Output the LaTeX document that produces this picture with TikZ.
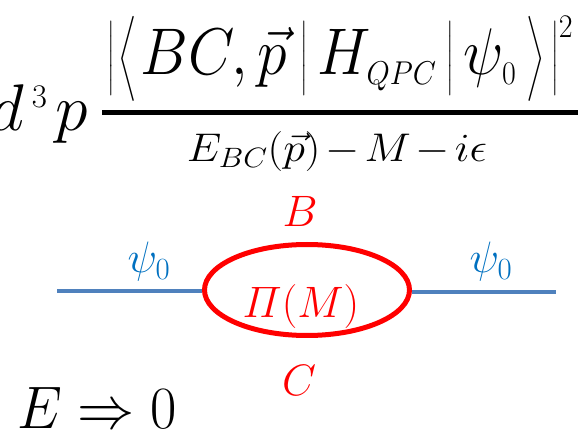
\RequirePackage{fix-cm}
\documentclass[tikz,border=0pt]{standalone}
\usepackage{amsmath}
\usepackage{graphicx}
\usetikzlibrary{shapes.geometric}
\definecolor{eqblue}{RGB}{0,112,192}
\definecolor{lineblue}{RGB}{79,129,189}
\definecolor{loopred}{RGB}{255,0,0}
\makeatletter
\newcommand\dlm[2]{\mathord{\hbox{$\left#2\vcenter to #1{}\right.\n@space$}}}
\newcommand\angd[1]{\mathord{\vcenter{\hbox{\scalebox{1}[1.14]{$\left#1\vcenter to 82pt{}\right.\n@space$}}}}}
\makeatother
\begin{document}
\begin{tikzpicture}[x=1pt,y=-1pt,
  txt/.style={inner sep=0pt, outer sep=0pt},
  bigtxt/.style={txt, font=\fontsize{66}{70}\selectfont},
  dentxt/.style={txt, font=\fontsize{40}{44}\selectfont},
  midtxt/.style={txt, font=\fontsize{44}{48}\selectfont},
  limtxt/.style={txt, font=\fontsize{60}{64}\selectfont},
  propline/.style={draw=lineblue, line width=4pt},
  loopstyle/.style={ellipse, draw=loopred, line width=5pt, minimum width=205pt, minimum height=91pt, inner sep=0pt}
]
\useasboundingbox (0,0) rectangle (578,435);
\clip (0,0) rectangle (578,435);
% formula
\node[bigtxt, anchor=base] (num) at (340.5,75) {\resizebox{465pt}{\height}{$\dlm{77pt}{|}\mkern1mu\angd{\langle}\mkern1mu BC,\vec{p}\mkern4mu\dlm{77pt}{|}\mkern3mu H_{\scriptscriptstyle QPC}\mkern3mu\dlm{77pt}{|}\mkern3mu\psi_{\scriptscriptstyle 0}\mkern3mu\angd{\rangle}\mkern2mu\dlm{77pt}{|}^{\scriptscriptstyle 2}$}};
\node[bigtxt, anchor=base east] (d3p) at (88,131) {$d^{\kern8pt\scriptscriptstyle 3}\kern8pt p$};
\node[dentxt, anchor=base] (den) at (337,162) {\resizebox{300pt}{\height}{$E_{BC}(\vec{p})\mkern2mu{-}\mkern2mu M\mkern2mu{-}\mkern2mu i\epsilon$}};
\coordinate (barL) at (102,112.5);
\coordinate (barR) at (582,112.5);
\draw[line width=4.5pt] (barL) -- (barR);
% diagram
\node[loopstyle] (loop) at (307,290) {};
\node[midtxt, text=loopred, anchor=base] (pi) at (301,318) {$\varPi(M)$};
\node[midtxt, text=loopred, anchor=base] (Blab) at (300,227) {$B$};
\node[midtxt, text=loopred, anchor=base] (Clab) at (299,395) {$C$};
\coordinate (Lend) at (57,291);
\coordinate (Rend) at (556,292);
\draw[propline] (Lend) -- (Lend -| loop.west);
\draw[propline] (loop.east |- Rend) -- (Rend);
\node[midtxt, text=eqblue, anchor=base] (psiL) at (149,273) {$\psi_0$};
\node[midtxt, text=eqblue, anchor=base] (psiR) at (491,273) {$\psi_0$};
\node[limtxt, anchor=base west] (lim) at (17,428) {\resizebox{160pt}{\height}{$E \Rightarrow 0$}};
\end{tikzpicture}
\end{document}
